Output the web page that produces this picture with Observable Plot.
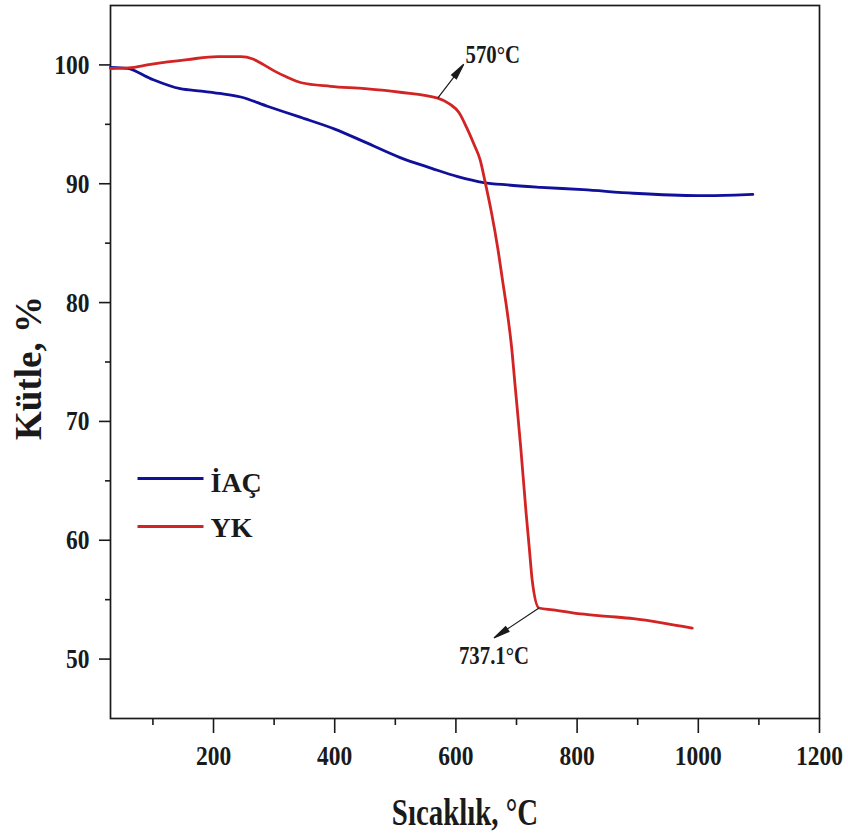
<!DOCTYPE html>
<html>
<head>
<meta charset="utf-8">
<script src="https://cdn.jsdelivr.net/npm/d3@7"></script>
<script src="https://cdn.jsdelivr.net/npm/@observablehq/plot@0.6"></script>
<style>
  body { margin: 0; background: #fff; }
</style>
</head>
<body>
<div id="chart"></div>
<script>
// Thermogravimetric curves: temperature (°C) vs. remaining mass (%)
const iacTemp = [30, 58, 96, 145, 180, 210, 245, 290, 343, 400, 450, 508, 560, 603, 646, 685, 740, 810, 893, 1000, 1060, 1090];
const iacMass = [99.8, 99.7, 98.85, 98.0, 97.8, 97.6, 97.3, 96.5, 95.6, 94.6, 93.5, 92.2, 91.3, 90.6, 90.1, 89.9, 89.7, 89.5, 89.2, 89.0, 89.05, 89.1];

const ykTemp = [30, 60, 96, 157, 207, 245, 265, 280, 300, 320, 345, 393, 450, 508, 570, 590, 605, 618, 630, 640, 648, 659, 669, 677, 685, 692, 697, 707, 716, 721, 726, 737.1, 760, 806, 850, 893, 940, 990];
const ykMass = [99.7, 99.75, 100.05, 100.45, 100.7, 100.7, 100.5, 100.1, 99.5, 99.0, 98.5, 98.2, 98.0, 97.7, 97.2, 96.7, 96.0, 94.7, 93.3, 92.0, 90.2, 87.5, 84.6, 81.85, 79.1, 76.2, 73.4, 67.8, 62.2, 59.4, 56.6, 54.3, 54.15, 53.8, 53.6, 53.4, 53.05, 52.6];

const seriesNames = ["İAÇ", "YK"];
const peakTemps = [570, 737.1];
const peakLabels = ["570°C", "737.1°C"];

const xMajorTicks = [200, 400, 600, 800, 1000, 1200];
const xMinorTicks = [100, 300, 500, 700, 900, 1100];
const yMajorTicks = [50, 60, 70, 80, 90, 100];
const yMinorTicks = [55, 65, 75, 85, 95];

const xTitle = "Sıcaklık, °C";
const yTitle = "Kütle, %";

// Styling
const palette = ["#10109a", "#d22424"];
const ink = "#1a1a1a";

const rows = [
  ...iacTemp.map((t, i) => ({series: seriesNames[0], t, m: iacMass[i]})),
  ...ykTemp.map((t, i) => ({series: seriesNames[1], t, m: ykMass[i]}))
];

const peaks = peakTemps.map((t, i) => ({t, m: ykMass[ykTemp.indexOf(t)], label: peakLabels[i]}));

// Custom dot symbols: a leader arrow with a filled head, and a legend swatch line
function arrowSymbol(vx, vy, head, half) {
  const len = Math.hypot(vx, vy), ux = vx / len, uy = vy / len;
  const bx = vx - ux * head, by = vy - uy * head;
  return {
    draw(ctx) {
      ctx.moveTo(0, 0);
      ctx.lineTo(bx, by);
      ctx.moveTo(vx, vy);
      ctx.lineTo(bx - uy * half, by + ux * half);
      ctx.lineTo(bx + uy * half, by - ux * half);
      ctx.closePath();
    }
  };
}
const swatchSymbol = {
  draw(ctx) { ctx.moveTo(0, 0); ctx.lineTo(66, 0); }
};

const arrowShapes = [arrowSymbol(26, -34, 16, 3), arrowSymbol(-45, 30, 16, 3)];
const labelOffsets = [[55, -44], [-45, 48]];
const legendOffsets = [[473, 478], [521, 523]];

const chart = Plot.plot({
  width: 848,
  height: 838,
  marginLeft: 110,
  marginRight: 29,
  marginTop: 5,
  marginBottom: 120,
  style: {fontFamily: "'Liberation Serif', 'Times New Roman', serif", fontWeight: "bold", color: ink, background: "#fff"},
  x: {domain: [30, 1200]},
  y: {domain: [45, 105]},
  color: {domain: seriesNames, range: palette},
  marks: [
    Plot.axisX({ticks: xMajorTicks, tickFormat: d => String(d), tickSize: 15, tickPadding: 12, fontSize: 28, strokeWidth: 1.6, label: null}),
    Plot.axisX({ticks: xMinorTicks, tickSize: 7, tickFormat: () => "", strokeWidth: 1.6, label: null}),
    Plot.axisY({ticks: yMajorTicks, tickFormat: d => String(d), tickSize: 11, tickPadding: 10, fontSize: 28, strokeWidth: 1.6, label: null}),
    Plot.axisY({ticks: yMinorTicks, tickSize: 5, tickFormat: () => "", strokeWidth: 1.6, label: null}),
    Plot.frame({stroke: ink, strokeWidth: 1.7}),
    Plot.line(rows, {x: "t", y: "m", z: "series", stroke: "series", strokeWidth: 2.8, curve: "monotone-x"}),
    ...peaks.map((p, i) => Plot.dot([p], {x: "t", y: "m", symbol: arrowShapes[i], fill: ink, stroke: ink, strokeWidth: 1.2})),
    ...peaks.map((p, i) => Plot.text([p], {x: "t", y: "m", text: "label", dx: labelOffsets[i][0], dy: labelOffsets[i][1], fontSize: 26, fill: ink})),
    ...seriesNames.map((name, i) => Plot.dot([name], {frameAnchor: "top-left", dx: 27, dy: legendOffsets[i][0], symbol: swatchSymbol, stroke: palette[i], strokeWidth: 3})),
    ...seriesNames.map((name, i) => Plot.text([name], {frameAnchor: "top-left", dx: 100, dy: legendOffsets[i][1], text: d => d, textAnchor: "start", lineAnchor: "middle", fontSize: 28, fill: ink})),
    Plot.text([xTitle], {frameAnchor: "bottom", dy: 94, text: d => d, textAnchor: "middle", lineAnchor: "middle", fontSize: 38, fill: ink}),
    Plot.text([yTitle], {frameAnchor: "left", dx: -81, dy: 6, rotate: -90, text: d => d, textAnchor: "middle", lineAnchor: "middle", fontSize: 37, fill: ink})
  ]
});

document.getElementById("chart").append(chart);

// Narrow the serif type horizontally, keeping each label's anchor in place
function squeeze(elements, s) {
  elements.forEach(el => {
    const b = el.getBBox();
    const anchor = getComputedStyle(el).textAnchor;
    const px = anchor === "end" ? b.x + b.width : anchor === "middle" ? b.x + b.width / 2 : b.x;
    el.setAttribute("transform", `${el.getAttribute("transform") || ""} translate(${px},0) scale(${s},1) translate(${-px},0)`);
  });
}
const allText = Array.from(chart.querySelectorAll("text"));
const byContent = list => allText.filter(el => list.includes(el.textContent));
squeeze(byContent(xMajorTicks.map(String)), 0.84);
squeeze(byContent(yMajorTicks.map(String)), 0.84);
squeeze(byContent(peakLabels), 0.8);
squeeze(byContent([xTitle]), 0.76);
</script>
</body>
</html>
